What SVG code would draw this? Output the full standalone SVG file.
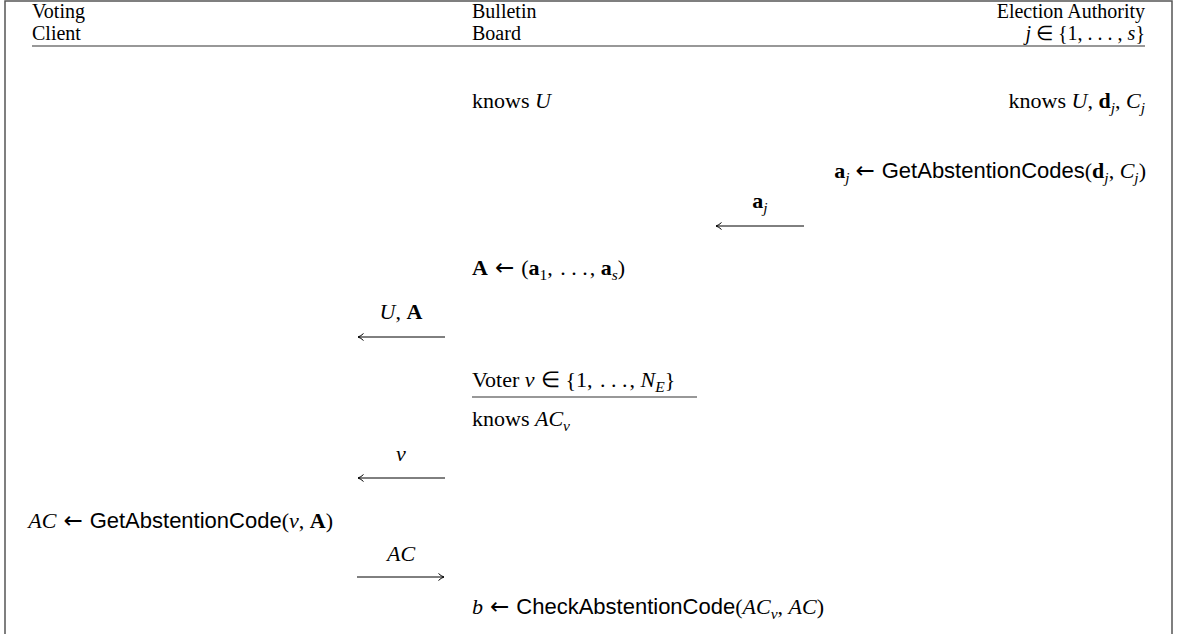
<svg xmlns="http://www.w3.org/2000/svg" width="1177" height="634" viewBox="0 0 1177 634">
<style>
.t{font-family:"Liberation Serif","Times New Roman",serif;font-size:22px;fill:#000}
.h{font-size:20px}
.i{font-style:italic}
.b{font-weight:bold}
.sf{font-family:"Liberation Sans",Arial,sans-serif;font-size:22px;font-style:normal;font-weight:normal}
.ar{font-family:"DejaVu Sans",sans-serif;font-size:23px;font-style:normal;font-weight:normal}
.sub{font-size:15.5px}
.ln{stroke:#000;stroke-width:1;fill:none}
.frame{stroke:#555;stroke-width:1.5;fill:none}
.rule{stroke:#333;stroke-width:1.2;fill:none}
</style>
<defs>
<marker id="ah" markerUnits="userSpaceOnUse" markerWidth="10" markerHeight="10" refX="6" refY="4" orient="auto">
<path d="M0.5,0.5 Q3,3 6,4 Q3,5 0.5,7.5" stroke="#000" stroke-width="1" fill="none"/>
</marker>
</defs>
<rect width="1177" height="634" fill="#fff"/>
<path class="frame" d="M5,634 V1 H1172 V634"/>

<g id="hdr-client"><text class="t h" x="32" y="18">Voting</text><text class="t h" x="32" y="40">Client</text></g>
<g id="hdr-board"><text class="t h" x="472" y="18">Bulletin</text><text class="t h" x="472" y="40">Board</text></g>
<g id="hdr-authority"><text class="t h" x="1145" y="18" text-anchor="end">Election Authority</text><text class="t h" x="1145" y="40" text-anchor="end"><tspan class="i">j</tspan><tspan dx="5">∈</tspan><tspan dx="5">{1, . . . , </tspan><tspan class="i">s</tspan>}</text></g>
<line class="rule" x1="32" y1="46" x2="1145" y2="46"/>

<g id="board-knows"><text class="t" x="472" y="108">knows <tspan class="i">U</tspan></text></g>
<g id="auth-knows"><text class="t" x="1145" y="108" text-anchor="end">knows <tspan class="i">U</tspan>, <tspan class="b">d</tspan><tspan class="i sub" dy="5">j</tspan><tspan dy="-5">, </tspan><tspan class="i">C</tspan><tspan class="i sub" dy="5">j</tspan></text></g>
<g id="auth-getcodes"><text class="t" x="1146" y="178" text-anchor="end"><tspan class="b">a</tspan><tspan class="i sub" dy="5">j</tspan><tspan class="ar" dy="-5" dx="6">←</tspan><tspan class="sf" dx="7">GetAbstentionCodes</tspan>(<tspan class="b">d</tspan><tspan class="i sub" dy="5">j</tspan><tspan dy="-5">, </tspan><tspan class="i">C</tspan><tspan class="i sub" dy="5">j</tspan><tspan dy="-5">)</tspan></text></g>
<g id="board-combine"><text class="t" x="472" y="275"><tspan class="b">A</tspan><tspan class="ar" dx="7">←</tspan><tspan dx="7">(</tspan><tspan class="b">a</tspan><tspan class="sub" dy="5">1</tspan><tspan dy="-5">, </tspan><tspan dx="2">. . .</tspan><tspan dx="2">, </tspan><tspan class="b">a</tspan><tspan class="i sub" dy="5">s</tspan><tspan dy="-5">)</tspan></text></g>
<g id="voter"><text class="t" x="472" y="387">Voter <tspan class="i">v</tspan><tspan dx="6">∈</tspan><tspan dx="6">{1, </tspan><tspan dx="2">. . .</tspan><tspan dx="2">, </tspan><tspan class="i">N</tspan><tspan class="i sub" dy="5">E</tspan><tspan dy="-5">}</tspan></text><line class="rule" x1="472" y1="397" x2="697" y2="397"/></g>
<g id="voter-knows"><text class="t" x="472" y="426">knows <tspan class="i">AC</tspan><tspan class="i sub" dy="5">v</tspan></text></g>
<g id="client-getcode"><text class="t" x="333" y="528" text-anchor="end"><tspan class="i">AC</tspan><tspan class="ar" dx="7">←</tspan><tspan class="sf" dx="7">GetAbstentionCode</tspan>(<tspan class="i">v</tspan>, <tspan class="b">A</tspan>)</text></g>
<g id="board-check"><text class="t" x="472" y="614"><tspan class="i">b</tspan><tspan class="ar" dx="7">←</tspan><tspan class="sf" dx="7">CheckAbstentionCode</tspan>(<tspan class="i">AC</tspan><tspan class="i sub" dy="5">v</tspan><tspan dy="-5">, </tspan><tspan class="i">AC</tspan>)</text></g>

<g id="connectors">
<line class="ln" x1="804" y1="226" x2="716" y2="226" marker-end="url(#ah)"/>
<text class="t" x="760" y="208" text-anchor="middle"><tspan class="b">a</tspan><tspan class="i sub" dy="5">j</tspan></text>
<line class="ln" x1="445" y1="337" x2="358" y2="337" marker-end="url(#ah)"/>
<text class="t" x="401" y="319" text-anchor="middle"><tspan class="i">U</tspan>, <tspan class="b">A</tspan></text>
<line class="ln" x1="445" y1="478" x2="358" y2="478" marker-end="url(#ah)"/>
<text class="t i" x="401" y="461" text-anchor="middle">v</text>
<line class="ln" x1="357" y1="577" x2="444" y2="577" marker-end="url(#ah)"/>
<text class="t i" x="401" y="561" text-anchor="middle">AC</text>
</g>
</svg>
